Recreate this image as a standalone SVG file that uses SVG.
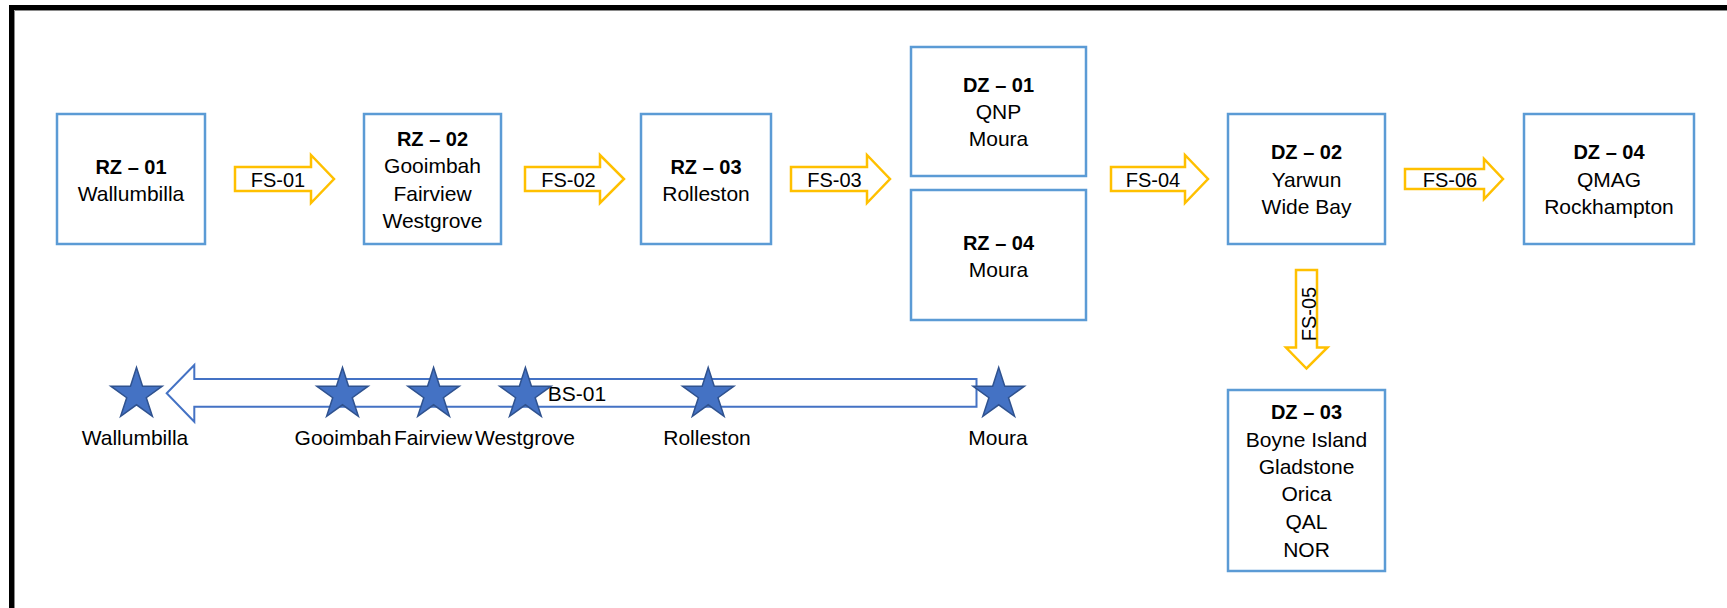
<svg xmlns="http://www.w3.org/2000/svg" xmlns:xlink="http://www.w3.org/1999/xlink" width="1727" height="608" viewBox="0 0 1727 608">
<style>
.box{fill:#fff;stroke:#5B9BD5;stroke-width:2.5}
.flow{fill:#fff;stroke:#FFC000;stroke-width:2.5;stroke-linejoin:miter}
.back{fill:#fff;stroke:#4472C4;stroke-width:2}
.star{fill:#4472C4;stroke:#2F528F;stroke-width:1.5;stroke-linejoin:miter}
text{font-family:"Liberation Sans",Arial,sans-serif;font-size:21px;fill:#000;text-anchor:middle}
.t{font-weight:bold;font-size:20px}
.fl{font-size:20px}
</style>
<defs>
<path id="star" d="M0,-27 L6.05,-8.33 L25.68,-8.34 L9.8,3.18 L15.87,21.84 L0,10.3 L-15.87,21.84 L-9.8,3.18 L-25.68,-8.34 L-6.05,-8.33 Z"/>
</defs>
<rect x="0" y="0" width="1727" height="608" fill="#fff"/>
<g id="frame">
<rect x="11.5" y="7.5" width="1740" height="640" fill="none" stroke="#000" stroke-width="5"/>
<path d="M14.5,1000 V10.5 H1727" fill="none" stroke="#8a8a8a" stroke-width="1"/>
</g>

<g id="connectors">
<g id="fs01"><path class="flow" d="M235,167 H311 V155 L334,179 L311,203 V191 H235 Z"/><text class="fl" x="278" y="187">FS-01</text></g>
<g id="fs02"><path class="flow" d="M525,167 H600 V155 L624,179 L600,203 V191 H525 Z"/><text class="fl" x="568.5" y="187">FS-02</text></g>
<g id="fs03"><path class="flow" d="M791,167 H867 V155 L890,179 L867,203 V191 H791 Z"/><text class="fl" x="834.5" y="187">FS-03</text></g>
<g id="fs04"><path class="flow" d="M1111,167 H1185 V155 L1208,179 L1185,203 V191 H1111 Z"/><text class="fl" x="1153" y="187">FS-04</text></g>
<g id="fs06"><path class="flow" d="M1405,169 H1484 V159 L1503,179 L1484,199 V189 H1405 Z"/><text class="fl" x="1450" y="187">FS-06</text></g>
<g id="fs05"><path class="flow" d="M1296,270 H1317 V347.5 H1327.5 L1306.5,368.5 L1286,347.5 H1296 Z"/><text class="fl" transform="translate(1315.5,314) rotate(-90)" x="0" y="0">FS-05</text></g>
<g id="bs01"><path class="back" d="M976.5,379 H194.3 V365 L166.7,393.3 L194.3,421.7 V406.7 H976.5 Z"/><text x="577" y="401">BS-01</text></g>
</g>

<g id="rz01"><rect class="box" x="57" y="114" width="148" height="130"/><text class="t" x="131" y="174">RZ – 01</text><text x="131" y="201">Wallumbilla</text></g>
<g id="rz02"><rect class="box" x="364" y="114" width="137" height="130"/><text class="t" x="432.5" y="146">RZ – 02</text><text x="432.5" y="173">Gooimbah</text><text x="432.5" y="201">Fairview</text><text x="432.5" y="228">Westgrove</text></g>
<g id="rz03"><rect class="box" x="641" y="114" width="130" height="130"/><text class="t" x="706" y="174">RZ – 03</text><text x="706" y="201">Rolleston</text></g>
<g id="dz01"><rect class="box" x="911" y="47" width="175" height="129"/><text class="t" x="998.5" y="92">DZ – 01</text><text x="998.5" y="119">QNP</text><text x="998.5" y="146">Moura</text></g>
<g id="rz04"><rect class="box" x="911" y="190" width="175" height="130"/><text class="t" x="998.5" y="250">RZ – 04</text><text x="998.5" y="277">Moura</text></g>
<g id="dz02"><rect class="box" x="1228" y="114" width="157" height="130"/><text class="t" x="1306.5" y="159">DZ – 02</text><text x="1306.5" y="187">Yarwun</text><text x="1306.5" y="214">Wide Bay</text></g>
<g id="dz04"><rect class="box" x="1524" y="114" width="170" height="130"/><text class="t" x="1609" y="159">DZ – 04</text><text x="1609" y="187">QMAG</text><text x="1609" y="214">Rockhampton</text></g>
<g id="dz03"><rect class="box" x="1228" y="390" width="157" height="181"/><text class="t" x="1306.5" y="419">DZ – 03</text><text x="1306.5" y="447">Boyne Island</text><text x="1306.5" y="474">Gladstone</text><text x="1306.5" y="501">Orica</text><text x="1306.5" y="529">QAL</text><text x="1306.5" y="557">NOR</text></g>

<g id="s-wallumbilla"><use xlink:href="#star" class="star" x="136.5" y="394.5"/><text x="135" y="445">Wallumbilla</text></g>
<g id="s-gooimbah"><use xlink:href="#star" class="star" x="342.5" y="394.5"/><text x="343" y="445">Gooimbah</text></g>
<g id="s-fairview"><use xlink:href="#star" class="star" x="433.6" y="394.5"/><text x="433" y="445">Fairview</text></g>
<g id="s-westgrove"><use xlink:href="#star" class="star" x="525.4" y="394.5"/><text x="525" y="445">Westgrove</text></g>
<g id="s-rolleston"><use xlink:href="#star" class="star" x="708.2" y="394.5"/><text x="707" y="445">Rolleston</text></g>
<g id="s-moura"><use xlink:href="#star" class="star" x="998.7" y="394.5"/><text x="998" y="445">Moura</text></g>
</svg>
